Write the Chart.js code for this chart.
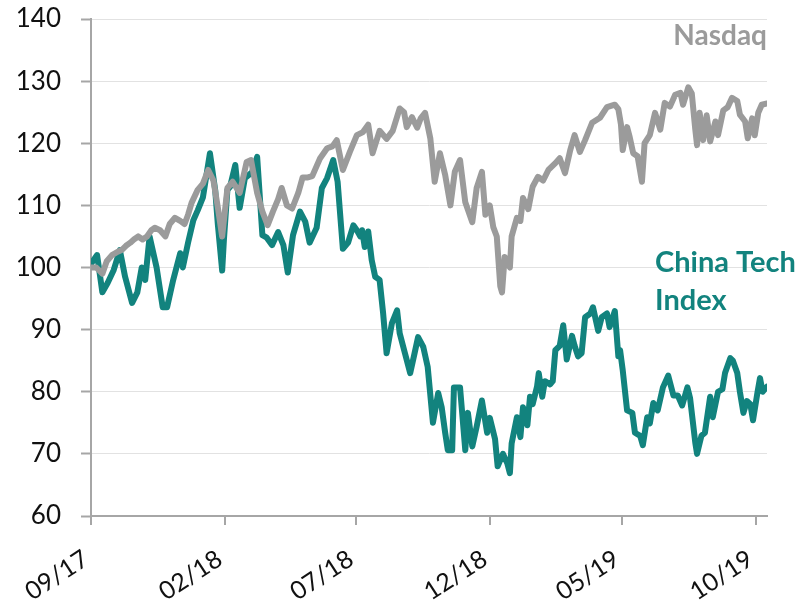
<!DOCTYPE html>
<html><head><meta charset="utf-8">
<script src="https://cdn.jsdelivr.net/npm/chart.js@4/dist/chart.umd.min.js"></script>
<style>html,body{margin:0;padding:0;background:#fff;}#wrap{width:800px;height:606px;position:relative;}</style>
</head><body><div id="wrap"><canvas id="c" width="800" height="606"></canvas></div>
<script>
// Day offsets are counted from this date (first observation)
const startDate = [2017, 9, 1];
const tickLabels = ['09/17', '02/18', '07/18', '12/18', '05/19', '10/19'];
const lastDay = 773;
const yMin = 60, yMax = 140, yStep = 10;
const seriesNames = ['Nasdaq', 'China Tech Index'];

const nasdaqDays = [0,6,13,18,24,30,35,40,45,49,54,59,64,69,73,79,85,90,96,102,107,111,115,122,128,134,140,145,150,156,162,170,178,183,190,196,202,208,214,218,224,230,237,242,248,253,257,262,270,276,281,288,296,304,311,317,322,330,338,345,353,358,361,367,373,377,382,388,393,399,405,411,416,422,428,436,441,447,451,456,460,464,468,470,473,479,481,487,491,494,500,505,511,517,523,531,536,542,548,553,559,565,573,582,590,599,603,606,608,613,616,620,625,630,633,639,645,651,656,662,668,674,677,683,687,691,693,696,700,704,708,714,717,723,728,733,739,742,748,751,756,759,763,767,773];
const nasdaqValues = [100,100,99,101,102,102.5,102.8,103.5,104,104.5,105,104.5,105,106,106.4,106,105,107,108,107.5,107,108.5,110.4,112.5,113.5,115.7,114,109.7,105,112.8,113.8,112,117,117.3,112,109,106.8,109,111,112.8,110,109.5,112,114.5,114.5,114.7,116,117.6,119.2,119.5,120.5,115.7,118.6,121.3,121.8,123,118.4,122,120.7,122,125.6,125,122.6,124.2,122.5,124,124.9,120.8,113.8,118.4,114.9,110,115.4,117.3,110.5,107.3,112.8,115.4,108.5,110,106.5,105,97,96,101.7,100,105,108,107.5,111.2,109.4,113,114.6,114,115.7,116.8,117.6,115.2,118.9,121.3,118.6,120.5,123.3,124.1,125.8,126.2,125.5,123,118.9,122.6,121,118.4,117.9,113.8,120,121.3,124.9,122.2,126.5,125.9,127.8,128.1,126.2,129,128,122.2,119.7,124.9,120.5,124.5,120.3,123.5,121.3,125.3,125.8,127.3,126.8,124.6,123.5,120.8,124,121.3,124.9,126.2,126.4];

const chinaDays = [0,7,13,19,26,33,39,47,53,58,62,67,75,82,87,94,102,105,111,117,122,128,136,142,145,150,152,156,159,165,170,176,184,190,196,201,207,214,220,225,231,239,245,250,258,264,270,277,282,288,294,300,304,308,310,313,317,321,325,330,334,338,344,350,353,359,365,370,374,380,385,391,397,401,405,408,413,415,422,428,431,436,441,447,453,456,462,465,471,476,479,481,487,491,494,499,502,505,510,512,516,519,525,528,531,536,540,544,550,553,557,561,565,571,574,580,584,590,593,599,603,605,608,613,619,622,628,631,636,639,643,648,654,660,666,671,676,682,685,691,693,698,702,708,711,717,722,725,731,734,739,742,746,750,754,757,762,765,768,773];
const chinaValues = [100.6,102,96,97.5,99.6,102.8,98.5,94.3,96,100,98,105,100,93.6,93.6,98,102.3,100,104,107.6,109.2,111.3,118.4,112.5,107,99.5,104.5,112.5,113,116.5,109.6,114.4,115.3,117.8,105.2,104.8,103.6,105.7,103.6,99.2,105.2,109,107.4,104,106.4,112.8,114.4,117.3,113.8,103,104,106.8,106,105,106,103.3,105.8,101.2,98.5,98,92.7,86.2,91,93.1,89.4,86.2,83,86.2,88.8,87.2,84,75,79.8,77.5,73.4,70.6,70.6,80.7,80.7,70.6,76.6,71.2,74.4,78.6,73.4,75.8,72.4,68,70,68.5,66.9,71.7,75.9,72.7,77.5,74.6,79.2,78,80.8,83,79.2,81.7,81.2,81.7,86.7,87.4,90.7,85.2,89,87.4,85.7,86.2,92,92.6,93.6,89.8,92,92.6,90.4,93,85.7,86.7,83.5,77,76.6,73.4,72.9,71.4,75.9,74.9,78.2,77,80.7,82.6,79.4,79.4,77.8,80.7,79,71.8,70,72.9,73.4,79.2,75.9,80,80.4,83,85.4,85,83,80,76.6,78.5,78,75.4,79.8,82.2,80,80.8];

const GRAY = '#9b9b9b';
const TEAL = '#12837e';
const FONT = 'Lato, "Open Sans", sans-serif';

const dayMs = 86400000;
const startMs = Date.UTC(startDate[0], startDate[1] - 1, startDate[2]);
const tickDays = tickLabels.map(l => {
  const [mm, yy] = l.split('/').map(Number);
  return Math.round((Date.UTC(2000 + yy, mm - 1, 1) - startMs) / dayMs);
});
const toPoints = (xs, ys) => xs.map((d, i) => ({x: d, y: ys[i]}));

const labelPlugin = {
  id: 'seriesLabels',
  afterDatasetsDraw(chart) {
    const {ctx, chartArea} = chart;
    ctx.save();
    ctx.textBaseline = 'alphabetic';
    ctx.font = 'bold 28px ' + FONT;
    ctx.fillStyle = GRAY;
    ctx.textAlign = 'right';
    ctx.fillText('Nasdaq', chartArea.right, 45);
    ctx.font = 'bold 29px ' + FONT;
    ctx.fillStyle = TEAL;
    ctx.textAlign = 'left';
    ctx.fillText('China Tech', 655, 272);
    ctx.fillText('Index', 655, 310);
    ctx.restore();
  }
};

new Chart(document.getElementById('c'), {
  type: 'line',
  data: {
    datasets: [
      {label: seriesNames[0], data: toPoints(nasdaqDays, nasdaqValues), borderColor: GRAY, borderWidth: 6, pointRadius: 0, tension: 0, borderJoinStyle: 'round', borderCapStyle: 'round', order: 0},
      {label: seriesNames[1], data: toPoints(chinaDays, chinaValues), borderColor: TEAL, borderWidth: 6, pointRadius: 0, tension: 0, borderJoinStyle: 'round', borderCapStyle: 'round', order: 1}
    ]
  },
  options: {
    responsive: false,
    animation: false,
    devicePixelRatio: 1,
    layout: {padding: {left: 0, right: 33, top: 19, bottom: 0}},
    plugins: {legend: {display: false}, tooltip: {enabled: false}},
    scales: {
      x: {
        type: 'linear', min: 0, max: lastDay,
        afterBuildTicks: s => { s.ticks = tickDays.map(v => ({value: v})); },
        afterFit: s => { s.height = 90; s.paddingLeft = 0; s.paddingRight = 0; },
        ticks: {
          autoSkip: false, minRotation: 33, maxRotation: 33, padding: 19, labelOffset: -5,
          color: '#111', font: {family: FONT, size: 25},
          callback: (v, i) => tickLabels[i]
        },
        grid: {drawOnChartArea: false, drawTicks: true, tickLength: 9, tickColor: '#a6a6a6', lineWidth: 2},
        border: {color: '#a6a6a6', width: 2}
      },
      y: {
        min: yMin, max: yMax,
        afterFit: s => { s.width = 91; s.paddingTop = 0; s.paddingBottom = 0; },
        ticks: {stepSize: yStep, padding: 20, color: '#111', font: {family: FONT, size: 26}},
        grid: {color: '#e2e2e2', lineWidth: 1, tickColor: '#a6a6a6', tickLength: 10, tickWidth: 2},
        border: {color: '#a6a6a6', width: 2}
      }
    }
  },
  plugins: [labelPlugin]
});
</script></body></html>
